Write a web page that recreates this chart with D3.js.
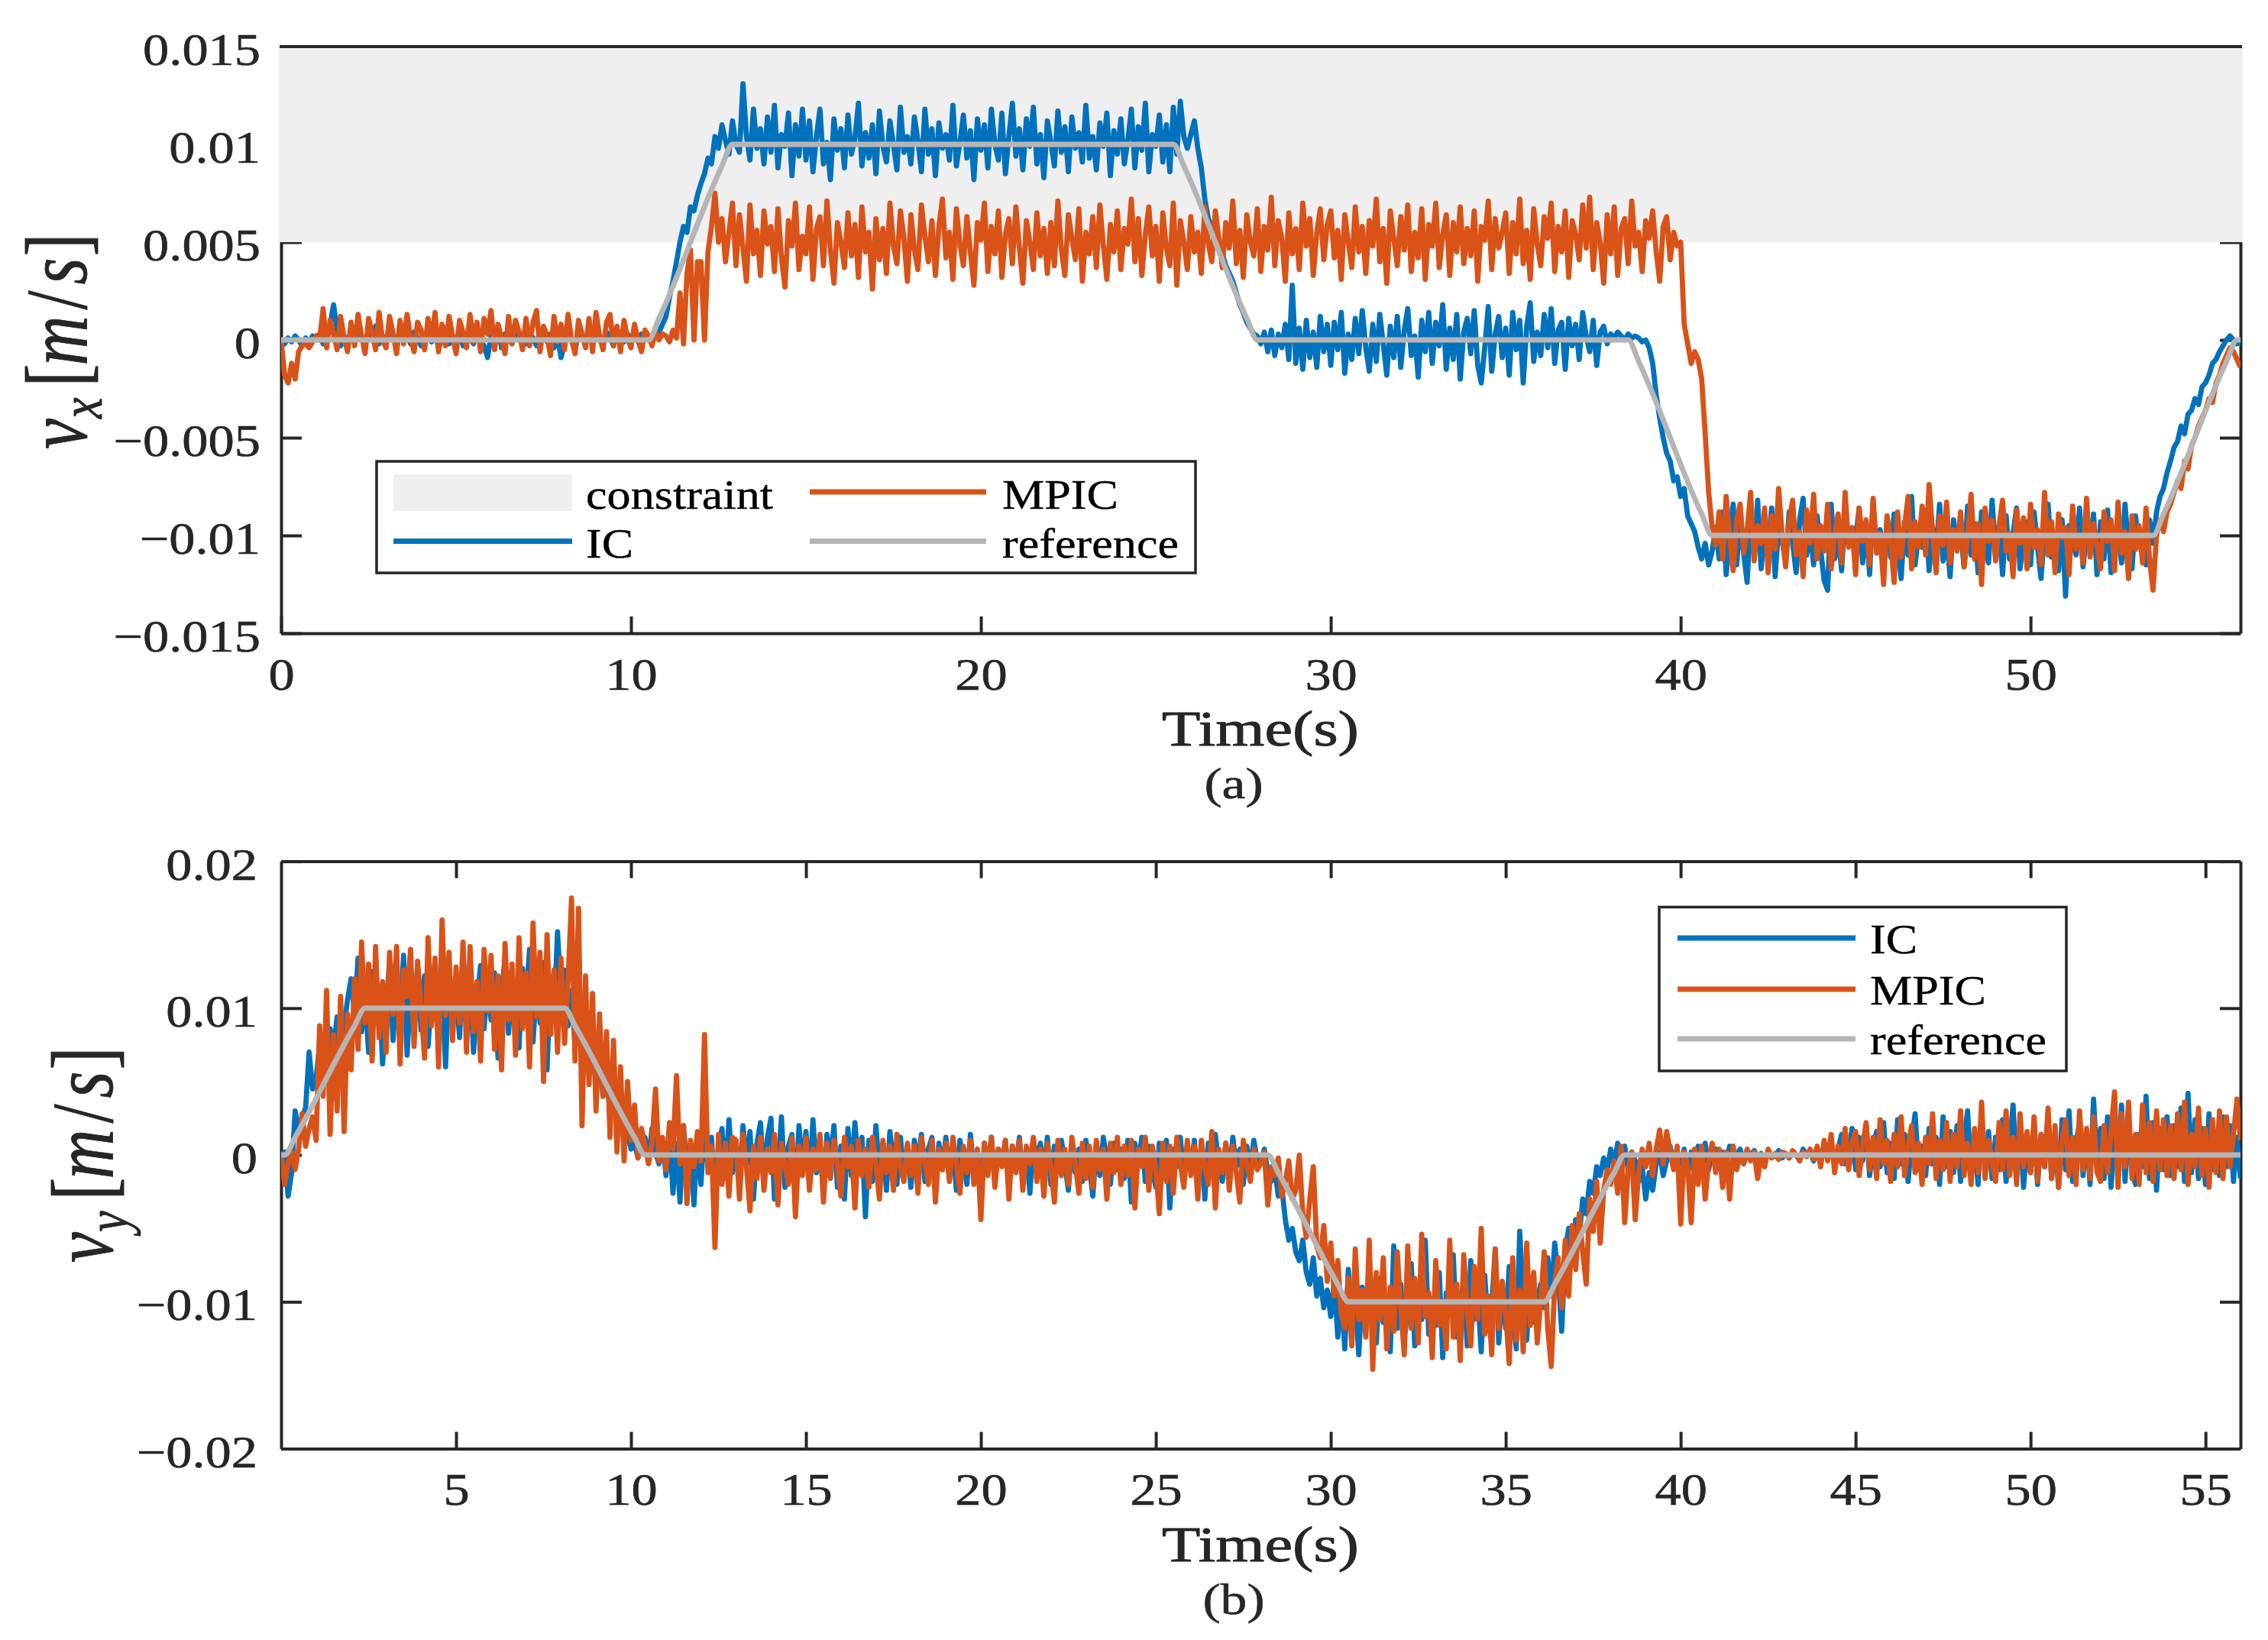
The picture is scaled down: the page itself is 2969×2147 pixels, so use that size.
<!DOCTYPE html>
<html><head><meta charset="utf-8">
<script src="https://cdn.jsdelivr.net/npm/d3@7"></script>
<style>body{margin:0;background:#fff}svg{display:block}</style>
</head><body>
<svg id="c" width="2969" height="2147"></svg>
<script>
// ---- data: sampled every DT seconds from t=0, values in units of 1e-4 m/s ----
const DT = 0.1, U = 1e-4;
const vxIC = [
0,-2,1,-1,2,0,-3,1,-1,2, 1,3,-2,4,8,18,5,-3,2,0, 3,-2,6,1,-3,4,0,7,-2,2, -1,5,2,-3,6,0,3,-2,4,1,
-3,2,5,-1,3,-4,1,6,-2,2, 0,4,-3,3,1,-2,6,0,-3,-9, 2,-1,7,-4,3,1,-2,5,0,3, -2,4,1,-3,5,2,-1,3,-4,2,
-9,-2,4,0,-5,3,1,-2,5,-1, 3,0,-2,4,1,-3,5,2,-1,3, 1,2,-1,3,0,2,1,3,4,8, 12,22,30,40,50,58,55,68,66,74,
80,85,93,90,104,98,110,102,95,112, 100,96,131,104,92,118,98,108,90,114, 96,120,88,105,99,116,84,110,94,118,
92,112,86,104,118,90,101,82,113,97, 108,88,115,95,103,121,89,106,93,110, 85,117,99,91,112,100,87,119,96,104,
90,114,102,86,118,95,108,84,111,98, 105,92,120,89,101,115,93,107,82,113, 97,110,88,118,100,92,116,85,104,121,
94,108,87,113,99,119,90,105,83,112, 101,89,117,96,109,86,114,98,106,91, 120,93,104,87,111,99,116,84,107,95,
113,90,102,118,88,109,97,121,86,105, 99,115,91,110,86,119,95,122,104,98, 105,112,98,88,72,62,58,52,48,44,
38,34,30,24,18,14,9,6,3,2, -2,4,-6,5,-8,3,-4,8,-10,28, -12,6,-15,10,-9,4,-14,12,-6,8,
-13,9,-5,14,-17,3,-10,11,-7,15, -4,-16,8,-11,13,-2,-18,7,-9,12, -14,5,16,-8,2,-19,10,-6,14,-12,
9,-3,18,-15,6,-10,13,-20,4,11, -7,15,-13,-22,-4,17,-16,3,12,-9, 6,-18,14,-5,10,-22,7,19,-11,4,
-8,13,-4,16,-12,5,9,-15,11,-3, 8,-10,14,2,-6,10,-13,4,7,-2, 3,1,4,2,0,3,1,2,1,-1,
0,-4,-12,-28,-40,-50,-58,-62,-72,-70, -80,-76,-90,-94,-98,-106,-112,-104,-115,-108,
-96,-112,-88,-120,-101,-84,-115,-93,-109,-124, -90,-110,-82,-117,-98,-106,-86,-121,-95,-103,
-113,-88,-104,-119,-92,-81,-110,-97,-115,-90, -107,-123,-128,-84,-112,-100,-118,-88,-105,-96,
-102,-86,-114,-95,-120,-83,-108,-97,-117,-91, -111,-89,-104,-122,-93,-110,-80,-115,-99,-106,
-87,-118,-96,-109,-84,-113,-100,-121,-92,-107, -98,-116,-85,-110,-94,-119,-88,-105,-114,-82,
-108,-95,-120,-90,-112,-99,-86,-117,-103,-93, -115,-88,-106,-122,-97,-84,-111,-100,-118,-92,
-131,-95,-104,-110,-86,-116,-99,-107,-89,-120, -93,-112,-87,-119,-101,-96,-114,-84,-108,-117,
-90,-106,-98,-115,-92,-104,-88,-80,-76,-68, -62,-55,-52,-44,-48,-38,-36,-30,-33,-24,
-22,-18,-12,-10,-6,-3,0,2,0,-2, -1];
const vxMPIC = [
0,-18,-22,-12,-20,-6,-3,-2,-4,-1, 2,0,16,-4,10,3,-5,12,1,-6, 9,-3,13,2,-7,11,4,-5,14,0, -4,12,3,-7,10,-2,13,1,-6,9,
5,-5,11,0,14,-6,8,-3,12,2, -7,10,4,-4,13,-1,9,-6,11,3, 15,-5,8,1,-7,12,-2,10,4,-5, 11,-3,9,15,-6,7,2,-8,12,-1,
8,-5,13,0,-7,10,3,-4,11,-6, 14,2,-5,9,13,-3,7,-6,10,1, -4,8,0,-6,5,2,-3,4,0,3, 2,-1,5,1,24,-2,34,46,0,40,
40,0,45,58,75,50,62,40,55,70, 38,64,47,30,69,44,56,33,66,49, 58,35,67,42,27,61,48,70,36,53,
44,68,31,57,63,38,71,46,29,60, 50,37,65,43,59,32,68,45,55,26, 62,41,57,34,70,48,39,66,52,30,
64,46,36,69,53,40,61,33,58,72, 42,55,31,67,49,38,63,45,28,60, 51,70,35,58,44,66,32,54,62,39,
68,47,29,61,50,36,65,43,57,34, 60,38,71,46,33,64,52,41,67,30, 55,44,63,37,69,48,31,59,45,66,
36,57,49,72,40,62,33,54,68,43, 58,30,65,47,38,70,28,61,50,36, 63,45,55,34,68,49,40,66,52,37,
60,47,71,39,56,32,64,50,43,67, 35,58,46,73,38,61,52,30,65,44, 57,36,70,48,62,33,55,67,41,59,
66,42,56,31,64,50,37,68,45,58, 34,61,48,72,40,57,29,66,52,38, 63,46,69,35,55,42,67,31,59,48,
70,37,54,64,33,60,45,68,39,57, 43,66,30,58,51,71,36,62,47,55, 65,34,60,44,72,39,56,31,67,49,
38,63,52,70,35,58,45,66,32,61, 54,41,69,47,73,36,60,50,29,64, 44,68,33,57,62,39,71,48,55,35,
61,52,66,45,30,58,63,41,55,48, 50,8,-2,-12,-6,-10,-20,-48,-78,-96,
-105,-88,-112,-80,-101,-118,-92,-84,-109,-97, -78,-113,-95,-104,-86,-119,-90,-107,-76,-100,
-116,-93,-82,-110,-98,-121,-87,-104,-79,-112, -95,-108,-84,-117,-100,-89,-114,-78,-106,-96,
-120,-86,-103,-92,-115,-81,-109,-99,-125,-90, -102,-124,-88,-111,-95,-80,-117,-93,-106,-85,
-110,-74,-98,-119,-90,-105,-83,-114,-97,-108, -88,-116,-101,-79,-112,-94,-125,-86,-103,-92,
-113,-95,-82,-108,-99,-121,-87,-104,-91,-117, -84,-106,-97,-115,-78,-110,-93,-119,-89,-101,
-96,-120,-85,-107,-100,-114,-81,-111,-94,-105, -117,-88,-103,-92,-118,-83,-109,-98,-122,-90,
-107,-95,-114,-86,-112,-128,-100,-92,-98,-88, -84,-78,-72,-76,-62,-66,-54,-50,-44,-40,
-36,-30,-32,-22,-18,-12,-8,-4,-6,-10, -14];
const vyIC = [
0,2,-28,-12,30,18,26,32,70,45, 52,75,60,66,86,72,94,80,88,106, 120,96,134,84,110,70,125,90,115,62,
102,130,78,118,92,136,68,112,100,128, 85,122,74,108,132,88,115,60,126,96, 113,80,138,94,120,70,105,129,86,117,
92,124,66,110,135,83,119,98,73,127, 104,140,77,116,90,131,58,121,95,152, 108,126,88,112,74,96,62,85,56,72,
48,66,40,52,30,42,22,28,10,16, 4,8,-2,6,12,-4,18,2,-6,10, -14,16,-26,8,-32,20,-10,4,-34,14,
-20,22,-8,12,-28,6,18,-16,24,-12, 10,-24,20,-6,16,-30,8,22,-18,12, 25,-30,-10,26,-22,6,14,-34,20,-8,
16,-20,24,-12,8,-28,14,-4,20,-22, 6,-30,18,-14,22,-8,12,-42,10,-18, 20,-12,8,-24,16,-6,-20,12,-14,6,
-22,10,-8,14,-18,4,12,-26,8,-10, 12,-16,6,-24,10,-4,-20,14,-12,2, -28,8,-10,12,-18,4,-6,10,-22,6,
-8,12,-16,4,-26,10,-4,8,-14,12, -20,6,-10,10,-6,-24,8,-12,4,-18, 10,-8,-28,6,-14,12,-4,-20,8,-10,
4,-16,10,-32,8,-6,12,-18,6,-10, -22,8,-12,10,-36,4,-8,12,-16,6, -10,10,-20,6,-30,8,-12,14,-6,-18,
8,-14,12,-8,4,-20,6,-10,10,-4, -6,4,-12,-18,-10,-28,-22,-44,-58,-50, -66,-72,-58,-80,-88,-70,-96,-84,-104,-92,
-110,-86,-124,-94,-132,-78,-116,-100,-136,-90, -120,-70,-108,-128,-84,-114,-96,-134,-62,-118,
-88,-126,-104,-74,-130,-92,-112,-58,-122,-98, -116,-80,-138,-94,-106,-68,-124,-100,-86,-130,
-72,-112,-96,-134,-82,-120,-104,-64,-128,-90, -118,-76,-108,-132,-52,-98,-126,-84,-114,-100,
-88,-104,-70,-96,-60,-82,-120,-64,-50,-72, -44,-56,-30,-40,-18,-26,-8,-14,-2,-10,
4,-6,8,-2,6,-10,2,-4,-18,-8, -30,-12,-24,-6,2,-14,-4,6,-8,-2, -6,4,-12,2,-16,6,-4,8,-10,2,
4,-8,2,-4,6,-2,0,4,-6,2, 0,3,-2,1,-3,2,0,-1,3,-2, 1,-2,2,0,-3,4,-1,2,-4,3,
-6,8,-2,10,-8,4,14,-6,2,18, -10,12,-4,20,-14,6,16,-8,22,-12, 8,-16,24,-6,14,-18,10,28,-10,6,
-14,18,-6,12,-20,26,-8,16,-12,20, -18,10,30,-14,8,-20,22,-6,16,-16, 12,-10,24,-18,6,34,-14,18,-22,10,
-12,20,-20,14,-8,28,-16,10,-22,24, -10,30,-18,8,22,-14,16,-20,38,-8, 18,-16,26,-22,12,-10,34,-18,20,-12,
-20,14,-8,40,-16,22,-24,18,-10,26, -14,20,-8,32,-18,42,-12,24,-16,18, -20,28,-10,16,-14,26,-8,20,-18,12, -16];
const vyMPIC = [
0,-20,-6,2,-10,4,28,6,18,26, 10,88,40,112,14,82,30,108,16,96, 58,120,72,145,90,130,64,142,80,118,
70,138,96,142,62,126,108,140,74,132, 100,66,148,88,134,60,160,95,138,78, 128,90,145,70,142,84,118,64,140,98,
136,72,122,58,144,92,130,68,148,86, 124,60,158,94,138,50,150,82,126,70, 134,76,118,175,64,168,20,122,48,110,
30,96,40,84,12,78,2,60,-4,50, 10,34,-2,18,6,-6,8,45,-4,12, -10,22,4,54,-6,20,-33,10,-8,16,
-4,82,-12,6,-63,14,-20,8,-28,12, 10,-30,14,-8,-38,6,-16,12,-24,4, -12,14,-34,8,-6,-20,12,-42,6,-14,
12,-24,4,-10,14,-32,8,-16,10,-6, -28,12,-8,6,-36,10,-14,4,-22,12, -6,-30,10,-12,6,-24,14,-8,-18,8,
-14,6,-26,12,-4,-20,10,-32,4,-10, 8,-18,12,-6,-26,6,-12,10,-20,4, -44,8,-14,12,-22,4,-8,10,-30,6,
-12,10,-24,6,-6,12,-18,4,-28,8, -8,-32,10,-14,4,-20,12,-6,-26,8, -16,6,-22,10,-10,4,-30,8,-12,12,
-20,6,-14,10,-36,4,-8,12,-24,6, -10,-40,8,-18,6,-26,12,-6,-22,10, -14,6,-30,10,-8,-20,16,-36,4,-12,
8,-24,6,-12,-32,10,-6,-18,4,-10, -6,2,-34,-8,-14,-2,-28,-18,-4,-30, -24,0,-40,-56,-30,-8,-62,-70,-48,-86,
-60,-96,-72,-108,-118,-84,-130,-64,-112,-92, -124,-58,-146,-80,-112,-70,-132,-90,-120,-66,
-104,-136,-62,-118,-84,-128,-54,-110,-94,-138, -72,-116,-100,-132,-58,-124,-88,-140,-68,-106,
-130,-76,-112,-50,-122,-96,-136,-64,-118,-86, -108,-142,-70,-126,-92,-134,-60,-116,-80,-128,
-100,-66,-118,-144,-88,-70,-104,-58,-96,-48, -78,-40,-66,-88,-30,-52,-18,-60,-24,-10,
-20,-4,-26,6,-46,-10,2,-44,-12,4, -8,8,-14,4,17,-6,16,2,-10,6, -47,2,-8,-46,4,-20,6,-30,-4,8,
-12,4,-22,2,-30,6,-10,0,-6,4, -4,2,-16,0,-8,4,-2,1,-3,2, 1,-2,3,0,-4,2,-1,4,-3,6,
-8,10,-4,14,-12,6,-6,18,-10,8, 16,-14,6,22,-10,12,-16,24,-6,10, -18,14,-8,26,-14,6,20,-12,8,-20,
12,-6,28,-16,10,-10,22,-18,14,-8, 30,-14,8,-20,18,-12,36,-16,10,-6, -18,22,-10,30,-14,12,-20,28,-8,16,
-12,26,-18,14,-8,32,-16,20,-22,10, 24,-14,12,-20,30,-10,18,-16,26,-12, -18,20,-12,16,43,-22,28,-8,36,-16,
14,-20,34,-12,22,-18,30,-10,24,-14, 20,-16,28,-10,36,-20,14,-8,32,-14, 18,-22,24,-12,30,-16,26,-8,14,38, 10];
// reference trajectories (knots: time s, value 1e-4 m/s)
const refXT = [0,10.5,10.8,12.6,12.9,25.5,25.8,27.6,27.9,38.5,38.8,40.6,40.9,53.5,53.8,55.6,55.9,56];
const refXV = [0,0,11,89,100,100,89,11,0,0,-11,-89,-100,-100,-89,-11,0,0];
const refYT = [0,0.1,0.4,2.1,2.4,8.1,8.4,10.1,10.4,28.2,28.5,30.2,30.5,36.1,36.4,38.1,38.4,56];
const refYV = [0,0,12,88,100,100,88,12,0,0,-12,-88,-100,-100,-88,-12,0,0];
const constraintX = [0.005, 0.015];
// ticks
const xTicksA = [0,10,20,30,40,50];
const xTicksB = [5,10,15,20,25,30,35,40,45,50,55];
const yTicksA = [-0.015,-0.01,-0.005,0,0.005,0.01,0.015];
const yLabelsA = ["\u22120.015","\u22120.01","\u22120.005","0","0.005","0.01","0.015"];
const yTicksB = [-0.02,-0.01,0,0.01,0.02];
const yLabelsB = ["\u22120.02","\u22120.01","0","0.01","0.02"];
const legendA = ["constraint","IC","MPIC","reference"];
const legendB = ["IC","MPIC","reference"];

// ---- drawing ----
const svg = d3.select('#c');
const FONT = "'Liberation Serif','Times New Roman',serif";
const INK = '#262626';
const C_IC = '#0072BD', C_MP = '#D95319', C_REF = '#B5B5B5', C_CON = '#EFEFEF';
const X0 = 368, X1 = 2933;
const LW = 6.8;
svg.append('rect').attr('width',2969).attr('height',2147).attr('fill','#fff');

function txt(parent, x, y, s, size, sx, anchor, fill, sw){
  const c = fill||INK;
  return parent.append('text').attr('transform',`translate(${x},${y}) scale(${sx},1)`)
    .attr('font-family',FONT).attr('font-size',size).attr('text-anchor',anchor||'start')
    .attr('fill',c).attr('stroke',c).attr('stroke-width',sw||0.5).attr('stroke-linejoin','round').text(s);
}

function panel(p){
  const x = d3.scaleLinear().domain([0,56]).range([X0,X1]);
  const y = d3.scaleLinear().domain(p.yDom).range([p.yBot,p.yTop]);
  const g = svg.append('g');
  svg.append('clipPath').attr('id','clip'+p.id).append('rect')
    .attr('x',X0).attr('y',p.yTop).attr('width',X1-X0).attr('height',p.yBot-p.yTop);

  const gB = g.append('g').attr('transform',`translate(0,${p.yBot})`)
    .call(d3.axisBottom(x).tickValues(p.xTicks).tickFormat(d=>String(d)).tickSizeInner(-22).tickSizeOuter(0).tickPadding(32));
  g.append('g').attr('transform',`translate(0,${p.yTop})`)
    .call(d3.axisTop(x).tickValues(p.xTicks).tickFormat('').tickSizeInner(-22).tickSizeOuter(0));
  const gL = g.append('g').attr('transform',`translate(${X0},0)`)
    .call(d3.axisLeft(y).tickValues(p.yTicks).tickFormat((d,i)=>p.yLabels[i]).tickSizeInner(-27).tickSizeOuter(0).tickPadding(0));
  g.append('g').attr('transform',`translate(${X1},0)`)
    .call(d3.axisRight(y).tickValues(p.yTicks).tickFormat('').tickSizeInner(-27).tickSizeOuter(0));
  g.selectAll('.domain, .tick line').attr('stroke',INK).attr('stroke-width',4);
  g.selectAll('.tick text').attr('fill',INK).attr('font-family',FONT).attr('font-size',59)
    .attr('stroke',INK).attr('stroke-width',0.6);
  gB.selectAll('.tick text').attr('transform','scale(1.16,1)');
  gL.selectAll('.tick text').attr('x',-p.lblGap/1.16).attr('dy','0.4em').attr('transform','scale(1.16,1)');

  if (p.con){
    g.append('rect').attr('x',X0-3).attr('width',X1-X0+6)
      .attr('y',y(p.con[1])).attr('height',y(p.con[0])-y(p.con[1])).attr('fill',C_CON);
    g.append('line').attr('x1',X0-2).attr('x2',X1+2).attr('y1',y(p.con[1])).attr('y2',y(p.con[1]))
      .attr('stroke',INK).attr('stroke-width',4);
  }

  const dl = g.append('g').attr('clip-path',`url(#clip${p.id})`);
  const line = d3.line().x(d=>x(d[0])).y(d=>y(d[1]));
  const ser = arr => arr.map((v,i)=>[i*DT, v*U]);
  dl.append('path').datum(ser(p.ic)).attr('d',line).attr('fill','none').attr('stroke',C_IC)
    .attr('stroke-width',LW).attr('stroke-linejoin','round');
  dl.append('path').datum(ser(p.mp)).attr('d',line).attr('fill','none').attr('stroke',C_MP)
    .attr('stroke-width',LW).attr('stroke-linejoin','round');
  const refLine = d3.line().curve(d3.curveMonotoneX).x(d=>x(d[0])).y(d=>y(d[1]));
  dl.append('path').datum(p.refT.map((t,i)=>[t,p.refV[i]*U])).attr('d',refLine).attr('fill','none')
    .attr('stroke',C_REF).attr('stroke-width',7).attr('stroke-linejoin','round');

  // axis titles
  txt(svg, 1650, p.yBot+147, 'Time(s)', 66, 1.25, 'middle', INK, 0.9);
  txt(svg, 1615, p.yBot+216, p.tag, 58, 1.2, 'middle', INK, 0.6);
  const yl = svg.append('text').attr('transform',`translate(${p.ylX},${p.ylY}) scale(1.27,1) rotate(-90)`)
    .attr('font-family',FONT).attr('font-size',90).attr('fill',INK).attr('stroke',INK).attr('stroke-width',0.7)
    .attr('text-anchor','start');
  yl.append('tspan').attr('font-style','italic').text('v');
  yl.append('tspan').attr('font-style','italic').attr('font-size',62).attr('dy',16).text(p.sub);
  yl.append('tspan').attr('dy',-16).attr('dx',14).text('[');
  yl.append('tspan').attr('font-style','italic').attr('dx',-2).text('m');
  yl.append('tspan').attr('dx',8).text('/');
  yl.append('tspan').attr('font-style','italic').attr('dx',8).text('s');
  yl.append('tspan').attr('dx',2).text(']');
  return {x,y,g};
}

panel({id:'a', yDom:[-0.015,0.015], yBot:829, yTop:61, xTicks:xTicksA, yTicks:yTicksA, yLabels:yLabelsA,
  ic:vxIC, mp:vxMPIC, refT:refXT, refV:refXV, con:constraintX, tag:'(a)', sub:'x', ylX:113, ylY:588, lblGap:27});
panel({id:'b', yDom:[-0.02,0.02], yBot:1896.5, yTop:1127.6, xTicks:xTicksB, yTicks:yTicksB, yLabels:yLabelsB,
  ic:vyIC, mp:vyMPIC, refT:refYT, refV:refYV, con:null, tag:'(b)', sub:'y', ylX:147, ylY:1653, lblGap:31});

// legends
const LS = 55, LSX = 1.13;
function legLine(g, x1, x2, y, c){ g.append('line').attr('x1',x1).attr('x2',x2).attr('y1',y).attr('y2',y).attr('stroke',c).attr('stroke-width',7); }
const la = svg.append('g');
la.append('rect').attr('x',493).attr('y',604).attr('width',1072).attr('height',146).attr('fill','#fff').attr('stroke',INK).attr('stroke-width',3.5);
la.append('rect').attr('x',515).attr('y',621).attr('width',234).attr('height',48).attr('fill',C_CON);
legLine(la, 515, 749, 708.6, C_IC);
legLine(la, 1060, 1291, 644, C_MP);
legLine(la, 1060, 1291, 708.6, C_REF);
txt(la, 767, 666, legendA[0], LS, LSX, 'start', '#000', 0.4);
txt(la, 767, 730, legendA[1], LS, LSX, 'start', '#000', 0.4);
txt(la, 1312, 666, legendA[2], LS, LSX, 'start', '#000', 0.4);
txt(la, 1312, 730, legendA[3], LS, LSX, 'start', '#000', 0.4);

const lb = svg.append('g');
lb.append('rect').attr('x',2172).attr('y',1187.5).attr('width',533).attr('height',214.5).attr('fill','#fff').attr('stroke',INK).attr('stroke-width',3.5);
const lbCols = [C_IC, C_MP, C_REF], lbY = [1228,1295,1360];
legendB.forEach((s,i)=>{ legLine(lb, 2196, 2429, lbY[i], lbCols[i]); txt(lb, 2448, lbY[i]+20, s, LS, LSX, 'start', '#000', 0.4); });
</script>
</body></html>
